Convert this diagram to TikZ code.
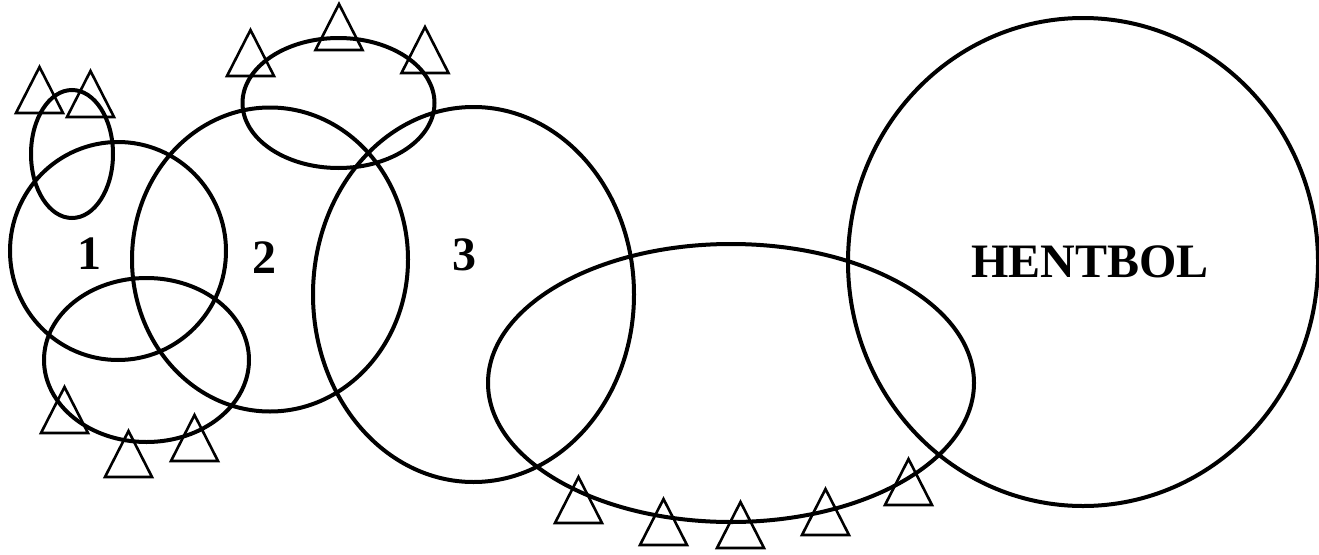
\documentclass[tikz,border=0pt]{standalone}
\usepackage{fontspec}
\setmainfont{Liberation Serif}
\begin{document}
\begin{tikzpicture}[x=1pt,y=-1pt,
  ring/.style={line width=4pt},
  triline/.style={line width=2.6pt,line join=miter},
  lab/.style={inner sep=0pt,font=\fontsize{48}{50}\selectfont\bfseries},
  tri/.pic={\draw[triline] (-23.5,0) -- (0,-46) -- (23.5,0) -- cycle;}]
\useasboundingbox (0,0) rectangle (1319,554);
\fill[white] (0,0) rectangle (1319,554);
% centres
\coordinate (c1) at (118,251);
\coordinate (cs) at (72,154);
\coordinate (c2) at (270,259.5);
\coordinate (ct) at (338.5,103);
\coordinate (cb) at (146.5,360);
\coordinate (c3) at (473.5,294.5);
\coordinate (ce) at (731,383);
\coordinate (ch) at (1083,262);
% rings
\draw[ring] (c1) ellipse [x radius=108pt, y radius=109pt];
\draw[ring] (cs) ellipse [x radius=41pt, y radius=64pt];
\draw[ring] (c2) ellipse [x radius=138pt, y radius=152pt];
\draw[ring] (ct) ellipse [x radius=96pt, y radius=65pt];
\draw[ring] (cb) ellipse [x radius=102.5pt, y radius=82pt];
\draw[ring] (c3) ellipse [x radius=160.5pt, y radius=187.5pt];
\draw[ring] (ce) ellipse [x radius=243pt, y radius=139pt];
\draw[ring] (ch) ellipse [x radius=235pt, y radius=244pt];
% triangles
\pic at (39.5,113) {tri};
\pic at (90.5,117) {tri};
\pic at (250.5,76) {tri};
\pic at (339,50) {tri};
\pic at (425,73) {tri};
\pic at (64.5,433) {tri};
\pic at (128.5,477) {tri};
\pic at (194.5,461) {tri};
\pic at (578.5,523) {tri};
\pic at (663.5,545) {tri};
\pic at (740.5,548) {tri};
\pic at (825.5,535) {tri};
\pic at (908.5,505) {tri};
% labels
\node[lab] (l1) at (89,254) {1};
\node[lab] (l2) at (264,258) {2};
\node[lab] (l3) at (464,255) {3};
\node[lab] (lh) at (1090,262) {HENTBOL};
\end{tikzpicture}
\end{document}
